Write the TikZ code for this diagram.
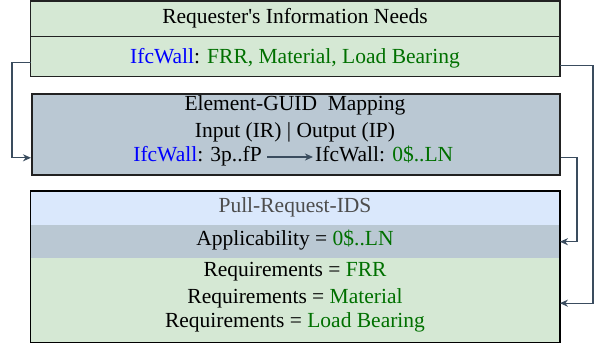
\documentclass[tikz,border=0pt]{standalone}
\usepackage{fontspec}
\setmainfont{Liberation Serif}
\usetikzlibrary{arrows.meta,calc}
\definecolor{gfill}{HTML}{D5E8D4}
\definecolor{bfill}{HTML}{DAE8FC}
\definecolor{sfill}{HTML}{BAC8D3}
\definecolor{gtext}{RGB}{0,112,0}
\definecolor{btext}{RGB}{0,0,255}
\definecolor{ptext}{HTML}{4D4D4D}
\definecolor{conn}{HTML}{3A4C5E}
\definecolor{bord}{HTML}{222222}
\begin{document}
\begin{tikzpicture}[x=1pt,y=-1pt,
  band/.style={draw=none,inner sep=0pt,anchor=north west,minimum width=529pt},
  lbl/.style={inner sep=0pt,anchor=base,font=\fontsize{21.5}{24}\selectfont},
  conline/.style={draw=conn,line width=1.3pt,-{Stealth[length=8pt,width=7pt,inset=2.5pt]}}]
\useasboundingbox (0,0) rectangle (598,347);
% box 1
\node[band,fill=gfill,minimum height=35pt] (req1) at (30.5,1) {};
\node[band,fill=gfill,minimum height=40pt] (req2) at (30.5,36) {};
\draw[bord,line width=1.5pt] (req1.north west) rectangle (req2.south east);
\draw[bord,line width=1.5pt] (req1.south west) -- (req1.south east);
\node[lbl] (t1) at (295,23.5) {Requester\textquotesingle s Information Needs};
\node[lbl] (t2) at (295,63.5) {\textcolor{btext}{IfcWall}: \textcolor{gtext}{FRR, Material, Load Bearing}};
% box 2
\node[band,fill=sfill,minimum height=81pt,draw=bord,line width=1.6pt,minimum width=528pt] (map) at (31,93) {};
\node[lbl] (m1) at (295,111) {Element-GUID\ \ Mapping};
\node[lbl] (m2) at (295,137.5) {Input (IR) | Output (IP)};
\node[lbl,anchor=base east] (src) at (262,162) {\textcolor{btext}{IfcWall}: 3p..fP};
\node[lbl,anchor=base west] (dst) at (315,162) {IfcWall: \textcolor{gtext}{0\$..LN}};
\coordinate (a1) at ([xshift=5pt]src.east |- 0,157);
\coordinate (a2) at ([xshift=-2pt]dst.west |- 0,157);
\draw[conline] (a1) -- (a2);
% box 3
\node[band,fill=bfill,minimum height=34pt] (ids) at (30.5,191) {};
\node[band,fill=sfill,minimum height=33pt] (app) at (30.5,225) {};
\node[band,fill=gfill,minimum height=84pt] (reqs) at (30.5,258) {};
\draw[black,line width=1.3pt] (ids.north west) rectangle (reqs.south east);
\node[lbl,text=ptext] (p1) at (295,212.7) {Pull-Request-IDS};
\node[lbl] (p2) at (295,246) {Applicability = \textcolor{gtext}{0\$..LN}};
\node[lbl] (p3) at (295,277) {Requirements = \textcolor{gtext}{FRR}};
\node[lbl] (p4) at (295,304) {Requirements = \textcolor{gtext}{Material}};
\node[lbl] (p5) at (295,328) {Requirements = \textcolor{gtext}{Load Bearing}};
% connectors
\coordinate (s1) at ([yshift=-6pt]req2.west);
\coordinate (e1) at ([yshift=-23.5pt]map.west);
\coordinate (s2) at ([yshift=-9pt]req2.east);
\coordinate (e2) at ([yshift=-3pt]reqs.east);
\coordinate (s3) at ([yshift=-23.5pt]map.east);
\coordinate (la) at (12,0);
\coordinate (ra) at (593,0);
\coordinate (rb) at (577,0);
\draw[conline] (s1) -- (la |- s1) |- (e1);
\draw[conline] (s2) -- (ra |- s2) |- (e2);
\draw[conline] (s3) -- (rb |- s3) |- (app.east);
\end{tikzpicture}
\end{document}
